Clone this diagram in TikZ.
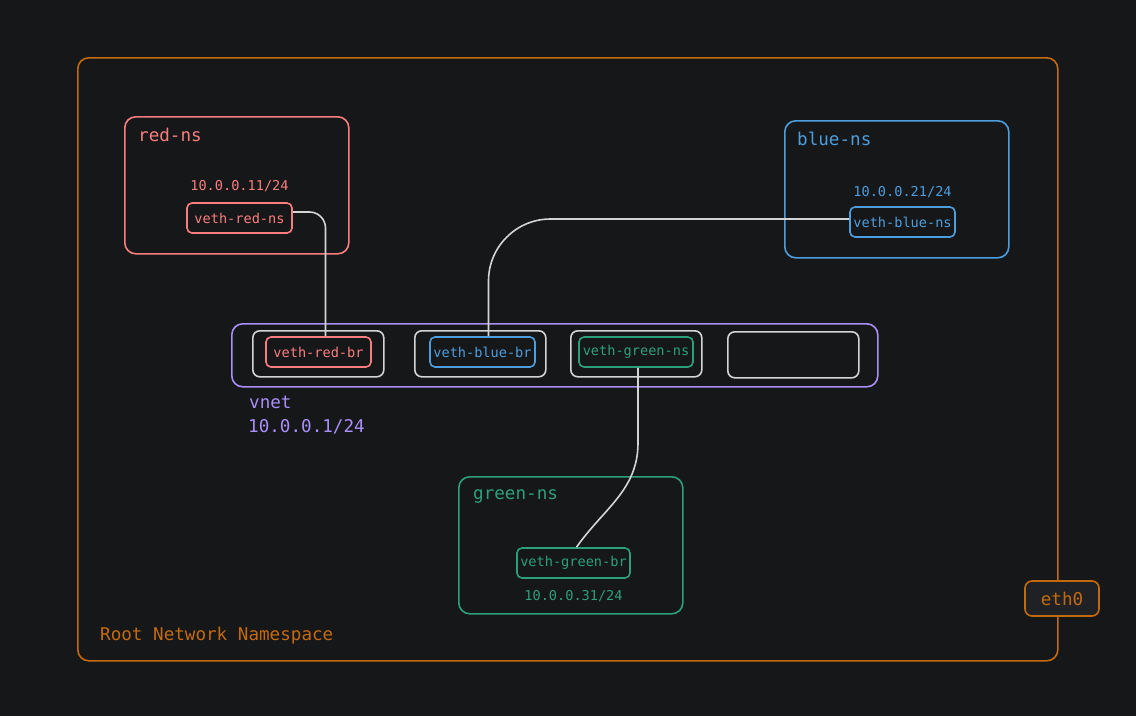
\documentclass[tikz,border=0pt]{standalone}
\usepackage{fontspec}
\setmainfont{DejaVu Sans Mono}
\usetikzlibrary{positioning}

\definecolor{bgdark}{RGB}{22,23,25}
\definecolor{ethfill}{RGB}{32,33,36}
\definecolor{rootorange}{RGB}{196,106,14}
\definecolor{nsred}{RGB}{250,126,126}
\definecolor{nsblue}{RGB}{76,158,222}
\definecolor{nsgreen}{RGB}{44,160,122}
\definecolor{vnetpurple}{RGB}{170,142,250}
\definecolor{portgray}{RGB}{212,212,212}

\begin{document}
\begin{tikzpicture}[x=1pt,y=-1pt,node distance=6pt,
  ns box/.style={draw,line width=1.6pt,rounded corners=11pt,inner sep=0pt,anchor=north west},
  port box/.style={draw=portgray,line width=1.6pt,rounded corners=7pt,minimum width=131pt,minimum height=46pt,inner sep=0pt,anchor=north west},
  veth/.style={draw,line width=1.6pt,rounded corners=5pt,minimum height=30pt,inner sep=0pt,font=\fontsize{13.6}{16}\selectfont},
  ip/.style={inner sep=0pt,font=\fontsize{13.6}{16}\selectfont},
  title/.style={anchor=west,inner sep=0pt,font=\fontsize{17.6}{20}\selectfont},
  link/.style={draw=portgray,line width=1.6pt}]

  \useasboundingbox (0,0) rectangle (1136,716);
  \fill[bgdark] (0,0) rectangle (1136,716);

  % root namespace
  \node[ns box,draw=rootorange,minimum width=980pt,minimum height=603pt] (root) at (77,57) {};
  \node[title,text=rootorange] (rootlbl) at (100,636) {Root Network Namespace};
  \node[draw=rootorange,fill=ethfill,line width=1.6pt,rounded corners=7pt,minimum width=74pt,minimum height=35pt,
        inner sep=0pt,text=rootorange,font=\fontsize{17.6}{20}\selectfont] (eth) at (1062,598.5) {eth0};

  % namespaces
  \node[ns box,draw=nsred,minimum width=224pt,minimum height=137pt] (red) at (124,116) {};
  \node[title,text=nsred] (redlbl) at (138,135) {red-ns};
  \node[veth,draw=nsred,text=nsred,minimum width=105pt] (vrns) at (239.5,218) {veth-red-ns};
  \node[ip,text=nsred,above=10pt of vrns] (redip) {10.0.0.11/24};

  \node[ns box,draw=nsblue,minimum width=224pt,minimum height=137pt] (blue) at (784,120) {};
  \node[title,text=nsblue] (bluelbl) at (797,139) {blue-ns};
  \node[veth,draw=nsblue,text=nsblue,minimum width=105pt] (vbns) at (902.5,222) {veth-blue-ns};
  \node[ip,text=nsblue,above=8pt of vbns] (blueip) {10.0.0.21/24};

  \node[ns box,draw=nsgreen,minimum width=224pt,minimum height=137pt] (green) at (458,476) {};
  \node[title,text=nsgreen] (greenlbl) at (473,496) {green-ns};
  \node[veth,draw=nsgreen,text=nsgreen,minimum width=113pt] (vgbr) at (573.5,563) {veth-green-br};
  \node[ip,text=nsgreen,below=11pt of vgbr] (greenip) {10.0.0.31/24};

  % bridge
  \node[ns box,draw=vnetpurple,minimum width=646pt,minimum height=63pt] (vnet) at (231,323) {};
  \node[title,text=vnetpurple] (vnetlbl) at (249,402) {vnet};
  \node[title,text=vnetpurple] (vnetip) at (248,427) {10.0.0.1/24};

  \node[port box] (p1) at (252,330) {};
  \node[port box] (p2) at (414,330) {};
  \node[port box] (p3) at (570,330) {};
  \node[port box] (p4) at (727,331) {};

  \node[veth,draw=nsred,text=nsred,minimum width=105pt] (vrbr) at (318.5,352) {veth-red-br};
  \node[veth,draw=nsblue,text=nsblue,minimum width=105pt] (vbbr) at (482.5,352) {veth-blue-br};
  \node[veth,draw=nsgreen,text=nsgreen,minimum width=114pt] (vgns) at (636,352) {veth-green-ns};

  % veth pairs
  \draw[link,rounded corners=16pt] ([yshift=6pt]vrns.east) -| ([xshift=7pt]vrbr.north);
  \draw[link,rounded corners=62pt] ([yshift=3pt]vbns.west) -| ([xshift=6pt]vbbr.north);
  \draw[link] ([xshift=2pt]vgns.south) -- ++(0,75) to[out=-90,in=55] ([xshift=3pt]vgbr.north);
\end{tikzpicture}
\end{document}
